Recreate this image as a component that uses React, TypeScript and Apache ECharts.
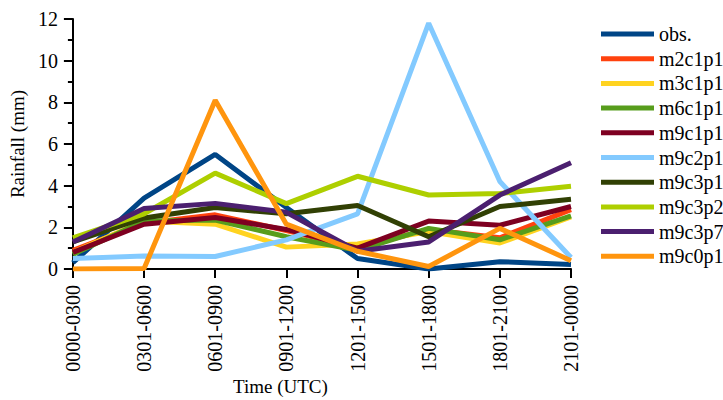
import React, { useEffect, useRef } from "react";
import * as echarts from "echarts";

const categories = ["0000-0300", "0301-0600", "0601-0900", "0901-1200", "1201-1500", "1501-1800", "1801-2100", "2101-0000"];
const seriesNames = ["obs.", "m2c1p1", "m3c1p1", "m6c1p1", "m9c1p1", "m9c2p1", "m9c3p1", "m9c3p2", "m9c3p7", "m9c0p1"];
const colors = ["#004586", "#ff420e", "#ffd320", "#579d1c", "#7e0021", "#83caff", "#314004", "#aecf00", "#4b1f6f", "#ff950e"];

const obs = [0.3, 3.4, 5.5, 2.95, 0.5, 0.0, 0.35, 0.22];
const m2c1p1 = [0.9, 2.2, 2.6, 1.85, 1.0, 1.9, 1.5, 2.85];
const m3c1p1 = [0.8, 2.3, 2.15, 1.05, 1.2, 1.8, 1.25, 2.5];
const m6c1p1 = [0.7, 2.3, 2.35, 1.55, 0.9, 1.95, 1.4, 2.55];
const m9c1p1 = [0.8, 2.15, 2.47, 1.9, 1.0, 2.3, 2.1, 3.0];
const m9c2p1 = [0.5, 0.62, 0.6, 1.4, 2.65, 11.8, 4.2, 0.55];
const m9c3p1 = [1.3, 2.45, 2.95, 2.65, 3.05, 1.55, 3.0, 3.35];
const m9c3p2 = [1.5, 2.65, 4.6, 3.14, 4.45, 3.55, 3.62, 3.97];
const m9c3p7 = [1.3, 2.9, 3.15, 2.72, 0.85, 1.3, 3.55, 5.1];
const m9c0p1 = [0.0, 0.02, 8.1, 2.15, 0.85, 0.12, 1.95, 0.4];

const allData = [obs, m2c1p1, m3c1p1, m6c1p1, m9c1p1, m9c2p1, m9c3p1, m9c3p2, m9c3p7, m9c0p1];

const FONT = "Liberation Serif";

export default function App() {
  const ref = useRef<HTMLDivElement>(null);
  useEffect(() => {
    if (!ref.current) return;
    const chart = echarts.init(ref.current, null, { renderer: "svg" });
    chart.setOption({
      animation: false,
      textStyle: { fontFamily: FONT, color: "#000" },
      grid: { left: 69, right: 152, top: 19, bottom: 131 },
      legend: {
        orient: "vertical",
        left: 596,
        top: 19,
        icon: "rect",
        itemWidth: 53,
        itemHeight: 5,
        itemGap: 4.7,
        textStyle: { fontFamily: FONT, fontSize: 20, lineHeight: 20, color: "#000" },
        data: seriesNames,
      },
      xAxis: {
        type: "category",
        data: categories,
        boundaryGap: false,
        axisLine: { show: true, lineStyle: { color: "#000", width: 2 } },
        axisTick: { show: true, length: 9, lineStyle: { color: "#000", width: 2 } },
        axisLabel: { rotate: 90, margin: 16, fontFamily: FONT, fontSize: 20, color: "#000" },
      },
      yAxis: {
        type: "value",
        min: 0,
        max: 12,
        interval: 2,
        name: "Rainfall (mm)",
        nameLocation: "middle",
        nameGap: 40,
        nameTextStyle: { fontFamily: FONT, fontSize: 19, color: "#000" },
        axisLine: { show: true, lineStyle: { color: "#000", width: 2 } },
        axisTick: { show: true, length: 9, lineStyle: { color: "#000", width: 2 } },
        minorTick: { show: true, splitNumber: 2, length: 5, lineStyle: { color: "#000", width: 2 } },
        splitLine: { show: false },
        axisLabel: { margin: 15, fontFamily: FONT, fontSize: 20, color: "#000" },
      },
      graphic: [
        {
          type: "text",
          left: 233,
          top: 377,
          style: { text: "Time (UTC)", fontFamily: FONT, fontSize: 19, fill: "#000" },
        },
      ],
      series: seriesNames.map((name, i) => ({
        name,
        type: "line",
        data: allData[i],
        symbol: "none",
        color: colors[i],
        lineStyle: { width: 5, color: colors[i] },
      })),
    });
    return () => chart.dispose();
  }, []);
  return <div ref={ref} style={{ width: 723, height: 400, position: "absolute", left: 0, top: 0 }} />;
}
